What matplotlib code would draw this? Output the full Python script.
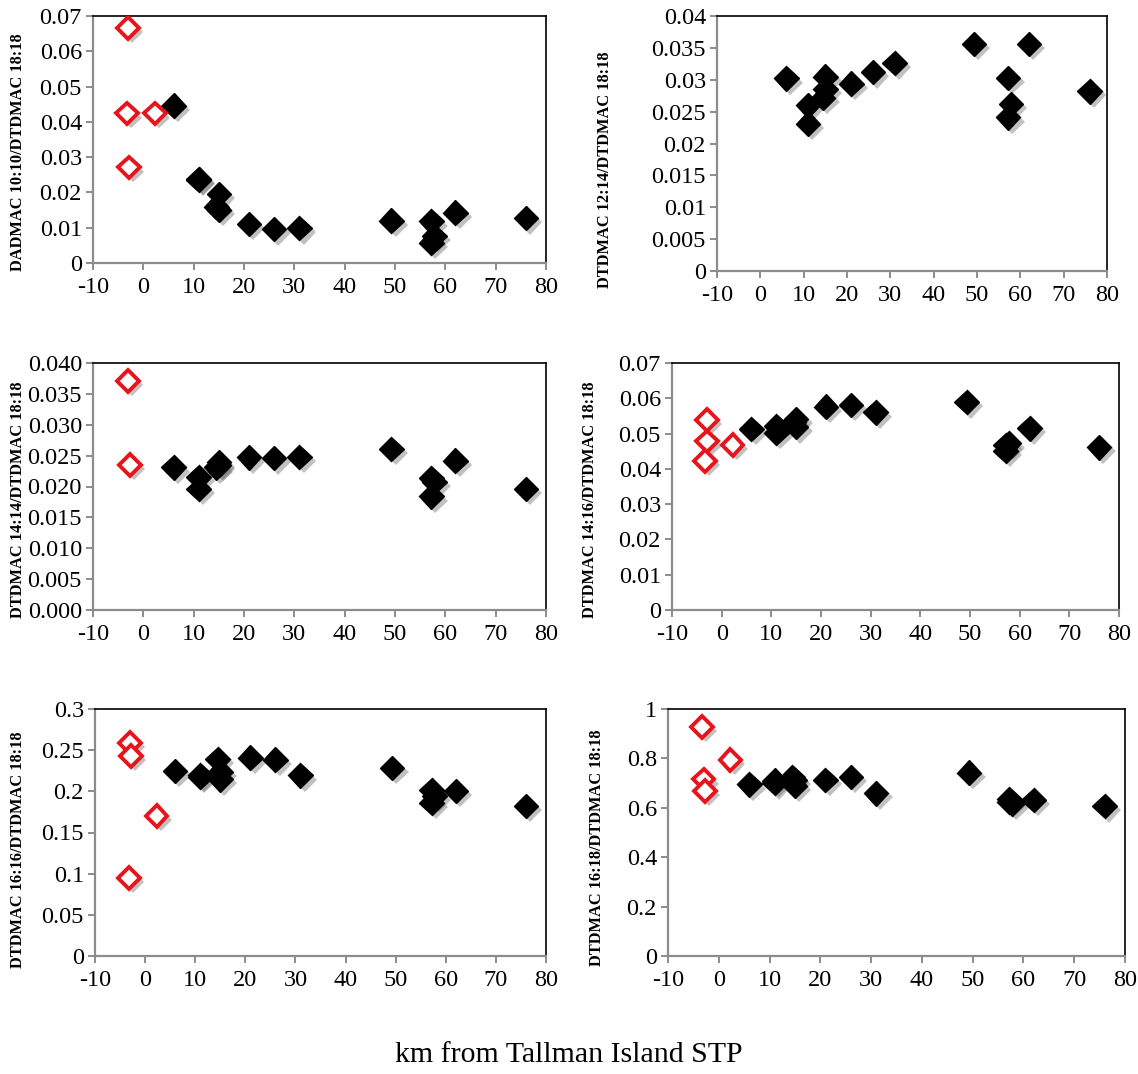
import matplotlib
matplotlib.use("Agg")
import matplotlib.pyplot as plt
import matplotlib.patheffects as pe
from matplotlib.ticker import FixedLocator, FuncFormatter

plt.rcParams['font.family'] = ['Liberation Serif', 'DejaVu Serif']

# ---- data ----
x_black = [6, 11, 11, 14.5, 15, 15, 21, 26, 31, 49.3, 57.2, 57.8, 57.2, 62, 76]

y1_black = [0.0446, 0.0236, 0.0238, 0.0160, 0.0195, 0.0151, 0.0111, 0.0096, 0.0099,
            0.0120, 0.0118, 0.0077, 0.0058, 0.0143, 0.0127]
x1_red = [-3, -3.2, 2.3, -2.8]
y1_red = [0.0666, 0.0424, 0.0424, 0.0271]

y2_black = [0.0302, 0.0260, 0.0231, 0.0272, 0.0305, 0.0285, 0.0294, 0.0312, 0.0326,
            0.0356, 0.0303, 0.0262, 0.0241, 0.0356, 0.0282]
x2_red = []
y2_red = []

y3_black = [0.0231, 0.0215, 0.0196, 0.0231, 0.0239, 0.0235, 0.0247, 0.0246, 0.0248,
            0.0261, 0.0214, 0.0207, 0.0184, 0.0242, 0.0196]
x3_red = [-3, -2.7]
y3_red = [0.0371, 0.0235]

y4_black = [0.0513, 0.0522, 0.0503, 0.0532, 0.0541, 0.0518, 0.0576, 0.0581, 0.0560,
            0.0589, 0.0468, 0.0472, 0.0452, 0.0515, 0.0461]
x4_red = [-3, -3, -3.3, 2.2]
y4_red = [0.0539, 0.0478, 0.0423, 0.0468]

y5_black = [0.2247, 0.2195, 0.2175, 0.2389, 0.2239, 0.2146, 0.2409, 0.2385, 0.2194,
            0.2285, 0.2016, 0.1943, 0.1862, 0.2004, 0.1822]
x5_red = [-3, -2.8, 2.3, -3.2]
y5_red = [0.259, 0.243, 0.170, 0.0951]

y6_black = [0.695, 0.710, 0.700, 0.723, 0.713, 0.690, 0.713, 0.725, 0.659,
            0.742, 0.634, 0.618, 0.625, 0.632, 0.607]
x6_red = [-3.3, -3, -2.7, 2.3]
y6_red = [0.928, 0.715, 0.668, 0.794]

ylabels = ["DADMAC 10:10/DTDMAC 18:18", "DTDMAC 12:14/DTDMAC 18:18",
           "DTDMAC 14:14/DTDMAC 18:18", "DTDMAC 14:16/DTDMAC 18:18",
           "DTDMAC 16:16/DTDMAC 18:18", "DTDMAC 16:18/DTDMAC 18:18"]
yticks = [[0, 0.01, 0.02, 0.03, 0.04, 0.05, 0.06, 0.07],
          [0, 0.005, 0.01, 0.015, 0.02, 0.025, 0.03, 0.035, 0.04],
          [0, 0.005, 0.01, 0.015, 0.02, 0.025, 0.03, 0.035, 0.04],
          [0, 0.01, 0.02, 0.03, 0.04, 0.05, 0.06, 0.07],
          [0, 0.05, 0.1, 0.15, 0.2, 0.25, 0.3],
          [0, 0.2, 0.4, 0.6, 0.8, 1.0]]
yfmt = ['%g', '%g', '%.3f', '%g', '%g', '%g']
xticks = [-10, 0, 10, 20, 30, 40, 50, 60, 70, 80]
xlabel = "km from Tallman Island STP"

panels = [
    (y1_black, x1_red, y1_red),
    (y2_black, x2_red, y2_red),
    (y3_black, x3_red, y3_red),
    (y4_black, x4_red, y4_red),
    (y5_black, x5_red, y5_red),
    (y6_black, x6_red, y6_red),
]

# ---- layout (pixels) ----
W, H = 1138, 1074
boxes = [(93, 16, 546, 263), (717, 16, 1107, 271),
         (93, 363, 546, 610), (672, 363, 1119, 610),
         (95, 709, 546, 956), (668, 709, 1125, 956)]
label_pos = [(18, 152), (605, 170), (18, 500), (590, 500), (18, 850), (597, 848)]

fig = plt.figure(figsize=(W / 100, H / 100), dpi=100)
shadow = [pe.SimplePatchShadow(offset=(3, -3), shadow_rgbFace='0.4', alpha=0.4), pe.Normal()]

for i, ((yb, xr, yr), box) in enumerate(zip(panels, boxes)):
    x0, y0, x1, y1 = box
    ax = fig.add_axes([x0 / W, 1 - y1 / H, (x1 - x0) / W, (y1 - y0) / H])
    ax.plot(x_black, yb, linestyle='none', marker='D', markersize=12.5,
            color='black', markeredgecolor='black', path_effects=shadow, zorder=3)
    if xr:
        ax.plot(xr, yr, linestyle='none', marker='D', markersize=11,
                markerfacecolor='white', markeredgecolor='#e8141b', markeredgewidth=2.8,
                path_effects=shadow, zorder=4)
    ax.set_xlim(-10, 80)
    ax.set_ylim(yticks[i][0], yticks[i][-1])
    ax.xaxis.set_major_locator(FixedLocator(xticks))
    ax.yaxis.set_major_locator(FixedLocator(yticks[i]))
    f = yfmt[i]
    ax.yaxis.set_major_formatter(FuncFormatter(lambda v, p, f=f: f % v))
    ax.xaxis.set_major_formatter(FuncFormatter(lambda v, p: '%g' % v))
    for s in ['left', 'bottom']:
        ax.spines[s].set_color('#8c8c8c')
        ax.spines[s].set_linewidth(1.6)
    for s in ['top', 'right']:
        ax.spines[s].set_color('black')
        ax.spines[s].set_linewidth(1.2)
    ax.tick_params(axis='both', direction='out', length=5, width=1.4, color='#8c8c8c',
                   labelsize=17.5, pad=3)
    ax.tick_params(axis='x', pad=5)
    lx, ly = label_pos[i]
    fig.text(lx / W, 1 - ly / H, ylabels[i], rotation=90, ha='center', va='center',
             fontsize=11.8, fontweight='bold')

fig.text(569 / W, 1 - 1055 / H, xlabel, ha='center', va='center', fontsize=21.5)

fig.savefig("out.png", dpi=100)
